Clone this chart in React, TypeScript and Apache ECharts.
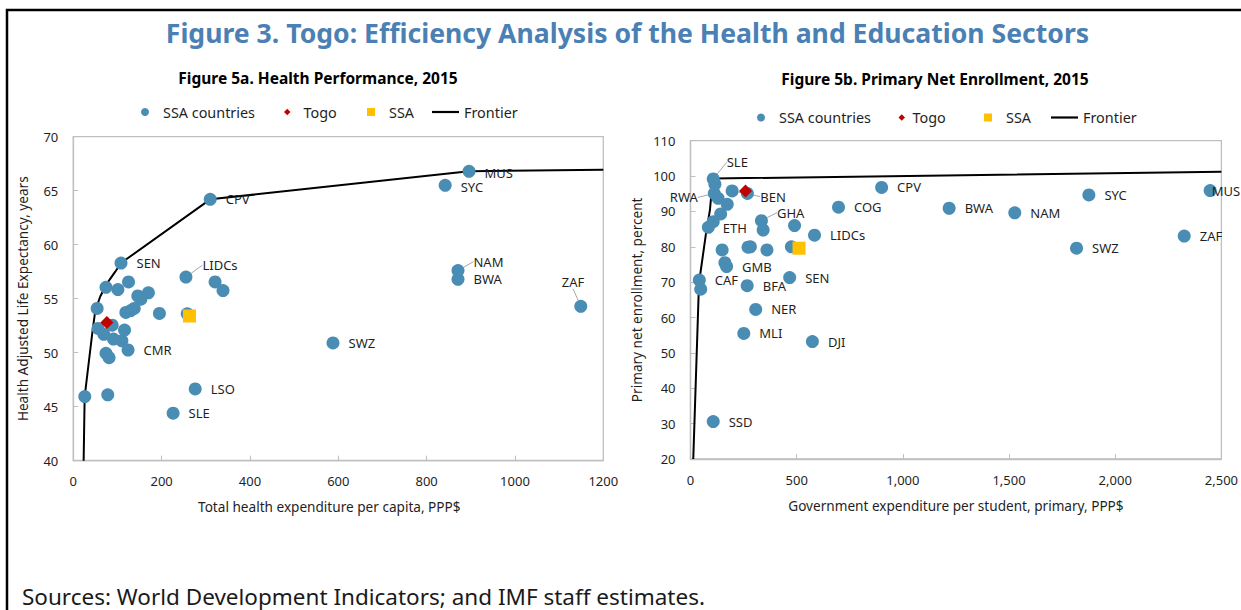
import React, { useEffect, useRef } from "react";
import * as echarts from "echarts";

// ---------- Figure 5a: Health ----------
const healthCountries: [string, number, number][] = [
  ["CPV", 310, 64.2],
  ["SEN", 108, 58.3],
  ["LIDCs", 255, 57.0],
  ["CMR", 124, 50.25],
  ["LSO", 276, 46.65],
  ["SLE", 226, 44.4],
  ["MUS", 896, 66.8],
  ["SYC", 842, 65.5],
  ["NAM", 871, 57.6],
  ["BWA", 871, 56.8],
  ["ZAF", 1149, 54.3],
  ["SWZ", 588, 50.9],
  ["", 125, 56.55],
  ["", 74, 56.05],
  ["", 101, 55.85],
  ["", 321, 56.55],
  ["", 339, 55.75],
  ["", 170, 55.55],
  ["", 146, 55.25],
  ["", 153, 54.95],
  ["", 138, 54.1],
  ["", 130, 53.9],
  ["", 119, 53.73],
  ["", 195, 53.63],
  ["", 54, 54.1],
  ["", 88, 52.55],
  ["", 56, 52.25],
  ["", 69, 51.7],
  ["", 116, 52.1],
  ["", 91, 51.26],
  ["", 110, 51.1],
  ["", 74, 49.94],
  ["", 81, 49.54],
  ["", 26, 45.94],
  ["", 78, 46.1],
  ["", 258, 53.6],
];
const healthTogo: [number, number][] = [[76, 52.8]];
const healthSSA: [number, number][] = [[263, 53.4]];
const healthFrontier: [number, number][] = [
  [23.4, 40], [25.7, 45.9], [34.7, 49], [43.8, 52.1], [49.8, 53.9], [61, 55.2],
  [76, 56.4], [95, 57.5], [108, 58.3], [310, 64.2], [896, 66.8], [1200, 66.95],
];
const healthXTicks = [0, 200, 400, 600, 800, 1000, 1200];
const healthYTicks = [40, 45, 50, 55, 60, 65, 70];

// ---------- Figure 5b: Education ----------
const eduCountries: [string, number, number][] = [
  ["SLE", 107, 99.2],
  ["RWA", 112, 95.1],
  ["BEN", 196, 95.8],
  ["ETH", 84, 85.5],
  ["GHA", 334, 87.4],
  ["COG", 697, 91.2],
  ["LIDCs", 584, 83.3],
  ["CPV", 900, 96.8],
  ["BWA", 1218, 90.9],
  ["NAM", 1527, 89.6],
  ["SYC", 1876, 94.65],
  ["SWZ", 1818, 79.6],
  ["MUS", 2447, 95.9],
  ["ZAF", 2325, 83.05],
  ["GMB", 170, 74.4],
  ["CAF", 41.5, 70.6],
  ["BFA", 267, 69.0],
  ["SEN", 467, 71.3],
  ["NER", 307, 62.3],
  ["MLI", 251, 55.5],
  ["DJI", 574, 53.2],
  ["SSD", 107, 30.6],
  ["", 115, 97.7],
  ["", 130, 93.7],
  ["", 173, 92.0],
  ["", 268, 95.1],
  ["", 142, 89.3],
  ["", 107, 87.1],
  ["", 342, 84.75],
  ["", 490, 86.0],
  ["", 149, 79.1],
  ["", 271, 79.9],
  ["", 282, 80.0],
  ["", 360, 79.1],
  ["", 475, 80.0],
  ["", 162, 75.5],
  ["", 48, 68.0],
];
const eduTogo: [number, number][] = [[259, 95.8]];
const eduSSA: [number, number][] = [[511, 79.6]];
const eduFrontier: [number, number][] = [
  [13, 20], [40, 69.7], [73, 83.8], [91.5, 90.4], [105, 99.3], [2500, 101.2],
];
const eduXTicks = [0, 500, 1000, 1500, 2000, 2500];
const eduYTicks = [20, 30, 40, 50, 60, 70, 80, 90, 100, 110];

const legendNames = ["SSA countries", "Togo", "SSA", "Frontier"];

// label shifts (dx, dy, leader line)
const healthShift: Record<string, [number, number, boolean]> = {
  LIDCs: [1, -12, true],
  NAM: [0, -9, true],
  MUS: [0, 2, false],
  SYC: [0, 1.5, false],
  ZAF: [-34.5, -24, true],
};
const eduShift: Record<string, [number, number, boolean]> = {
  SLE: [-2, -16.6, true],
  RWA: [-1, 4, true],
  BEN: [12.7, 5.7, true],
  GHA: [0, -8, true],
  ETH: [-1, 1, false],
  MUS: [-14, 0, false],
};
const leftLabels = new Set(["RWA"]);

const BLUE = "#4a8db4";
const RED = "#c00000";
const GOLD = "#ffc000";
const FONT = "Noto Sans";
const AXIS_GRAY = "#bfbfbf";
const TXT = "#1f1f1f";

function countryData(rows: [string, number, number][], shift: Record<string, [number, number, boolean]>, left?: Set<string>) {
  return rows.map(([name, x, y]) => ({
    value: [x, y],
    name,
    label: { show: name !== "", position: left && left.has(name) ? "left" : "right" },
    labelLine: { show: !!(shift[name] && shift[name][2]) },
  }));
}

function axisPair(idx: number, xt: number[], yt: number[], xName: string, yName: string, fmt: (v: number) => string, yGap: number, namePad: number[]) {
  const common = {
    axisLine: { show: true, lineStyle: { color: AXIS_GRAY, width: 1.3 } },
    axisTick: { show: true, inside: true, length: 5, lineStyle: { color: AXIS_GRAY } },
    splitLine: { show: false },
    axisLabel: { color: TXT, fontFamily: FONT, fontSize: 13 },
    nameTextStyle: { color: TXT, fontFamily: FONT, fontSize: 13.6 },
  };
  const x = {
    ...common,
    type: "value",
    gridIndex: idx,
    min: xt[0],
    max: xt[xt.length - 1],
    interval: xt[1] - xt[0],
    name: xName,
    nameLocation: "middle",
    nameGap: 39,
    nameTextStyle: { ...common.nameTextStyle, padding: namePad },
    axisLabel: { ...common.axisLabel, margin: 14, formatter: fmt },
  };
  const y = {
    ...common,
    type: "value",
    gridIndex: idx,
    min: yt[0],
    max: yt[yt.length - 1],
    interval: yt[1] - yt[0],
    name: yName,
    nameLocation: "middle",
    nameGap: yGap,
    axisLabel: { ...common.axisLabel, margin: 15 },
  };
  return { x, y };
}

function panelSeries(idx: number, rows: [string, number, number][], shift: Record<string, [number, number, boolean]>, togo: [number, number][], ssa: [number, number][], frontier: [number, number][], left?: Set<string>) {
  const names = rows.map((r) => r[0]);
  return [
    {
      name: "Frontier",
      type: "line",
      xAxisIndex: idx,
      yAxisIndex: idx,
      data: frontier,
      symbol: "none",
      lineStyle: { color: "#000", width: 2 },
      z: 2,
      silent: true,
    },
    {
      name: "SSA countries",
      type: "scatter",
      xAxisIndex: idx,
      yAxisIndex: idx,
      symbol: "circle",
      symbolSize: 13,
      itemStyle: { color: BLUE, opacity: 1 },
      data: countryData(rows, shift, left),
      label: {
        show: false,
        formatter: "{b}",
        distance: 9,
        color: TXT,
        fontFamily: FONT,
        fontSize: 13,
      },
      labelLine: { lineStyle: { color: "#a6a6a6", width: 1 } },
      labelLayout: (p: any) => {
        const s = shift[names[p.dataIndex]];
        return s ? { dx: s[0], dy: s[1] } : {};
      },
      z: 3,
    },
    {
      name: "SSA",
      type: "scatter",
      xAxisIndex: idx,
      yAxisIndex: idx,
      symbol: "rect",
      symbolSize: 13,
      itemStyle: { color: GOLD, opacity: 1 },
      data: ssa,
      z: 4,
    },
    {
      name: "Togo",
      type: "scatter",
      xAxisIndex: idx,
      yAxisIndex: idx,
      symbol: "diamond",
      symbolSize: [13, 13],
      itemStyle: { color: RED, opacity: 1 },
      data: togo,
      z: 5,
    },
  ];
}

// one legend per entry so each can sit where the reference puts it
function legendSet(top: number, lefts: number[], pads: number[]) {
  const icons = ["circle", "diamond", "rect", "path://M0,0H27V2.2H0Z"];
  const widths = [8, 6.5, 8, 27];
  const heights = [8, 6.5, 8, 2.2];
  const colors = [BLUE, RED, GOLD, "#000"];
  return legendNames.map((n, i) => ({
    data: [n],
    left: lefts[i],
    top,
    orient: "horizontal",
    padding: 0,
    icon: icons[i],
    itemWidth: widths[i],
    itemHeight: heights[i],
    selectedMode: false,
    textStyle: { color: TXT, fontFamily: FONT, fontSize: 14.4, padding: [0, 0, 0, pads[i]] },
    itemStyle: { color: colors[i] },
  }));
}

export default function App() {
  const ref = useRef<HTMLDivElement>(null);
  useEffect(() => {
    document.body.style.margin = "0";
    if (!ref.current) return;
    const chart = echarts.init(ref.current, undefined, { renderer: "svg" });
    const a = axisPair(0, healthXTicks, healthYTicks, "Total health expenditure per capita, PPP$", "Health Adjusted Life Expectancy, years", (v) => String(v), 44, [0, 18, 0, 0]);
    const b = axisPair(1, eduXTicks, eduYTicks, "Government expenditure per student, primary, PPP$", "Primary net enrollment, percent", (v) => v.toLocaleString("en-US"), 47, [0, 0, 0, 0]);
    chart.setOption({
      animation: false,
      backgroundColor: "#fff",
      grid: [
        { left: 73.3, top: 136.7, width: 530, height: 324, show: true, borderColor: AXIS_GRAY, borderWidth: 1.3, backgroundColor: "transparent" },
        { left: 690.5, top: 140.7, width: 531.8, height: 318.3, show: true, borderColor: AXIS_GRAY, borderWidth: 1.3, backgroundColor: "transparent" },
      ],
      xAxis: [a.x, b.x],
      yAxis: [a.y, b.y],
      legend: [
        ...legendSet(105, [141, 284, 367, 432], [9, 8, 9, 0]),
        ...legendSet(110.5, [757, 898.5, 984, 1051], [9, 2.5, 9, 0]),
      ],
      series: [
        ...panelSeries(0, healthCountries, healthShift, healthTogo, healthSSA, healthFrontier),
        ...panelSeries(1, eduCountries, eduShift, eduTogo, eduSSA, eduFrontier, leftLabels),
      ],
      graphic: [
        {
          type: "rect",
          shape: { x: 7, y: 10, width: 1400, height: 800 },
          style: { fill: "none", stroke: "#000", lineWidth: 2.5 },
          silent: true,
        },
        {
          type: "text",
          x: 627.5,
          y: 33,
          style: {
            text: "Figure 3. Togo: Efficiency Analysis of the Health and Education Sectors",
            fill: "#4b80b4",
            font: "bold 26.6px 'Noto Sans'",
            textAlign: "center",
            textVerticalAlign: "middle",
          },
        },
        {
          type: "text",
          x: 318,
          y: 78,
          style: {
            text: "Figure 5a. Health Performance, 2015",
            fill: "#000",
            font: "bold 15.5px 'Noto Sans'",
            textAlign: "center",
            textVerticalAlign: "middle",
          },
        },
        {
          type: "text",
          x: 935,
          y: 79,
          style: {
            text: "Figure 5b. Primary Net Enrollment, 2015",
            fill: "#000",
            font: "bold 15.5px 'Noto Sans'",
            textAlign: "center",
            textVerticalAlign: "middle",
          },
        },
        {
          type: "text",
          x: 22,
          y: 596,
          style: {
            text: "Sources: World Development Indicators; and IMF staff estimates.",
            fill: "#1a1a1a",
            font: "22.5px 'Noto Sans'",
            textAlign: "left",
            textVerticalAlign: "middle",
          },
        },
      ],
    });
    return () => chart.dispose();
  }, []);
  return <div ref={ref} style={{ width: 1241, height: 610 }} />;
}
